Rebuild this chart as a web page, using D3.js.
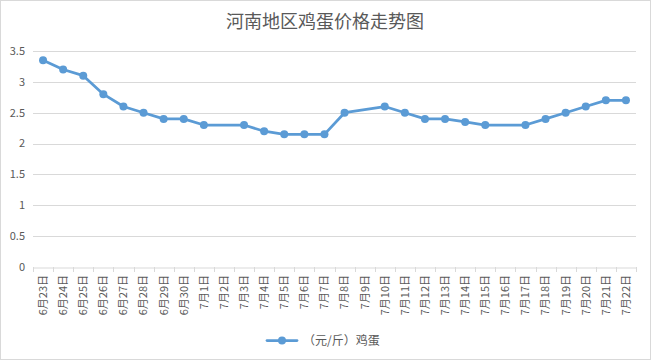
<!DOCTYPE html>
<html><head><meta charset="utf-8">
<script src="https://cdn.jsdelivr.net/npm/d3@7"></script>
<style>
html,body{margin:0;padding:0;background:#fff;}
svg{display:block;font-family:"Noto Sans CJK SC","Microsoft YaHei",sans-serif;}
</style></head>
<body>
<svg id="c" width="651" height="360"></svg>
<script>
(function(){
const title = "河南地区鸡蛋价格走势图";
const seriesName = "（元/斤）鸡蛋";
const categories = ["6月23日","6月24日","6月25日","6月26日","6月27日","6月28日","6月29日","6月30日",
  "7月1日","7月2日","7月3日","7月4日","7月5日","7月6日","7月7日","7月8日","7月9日","7月10日",
  "7月11日","7月12日","7月13日","7月14日","7月15日","7月16日","7月17日","7月18日","7月19日",
  "7月20日","7月21日","7月22日"];
const values = [3.35,3.2,3.1,2.8,2.6,2.5,2.4,2.4,
  2.3,null,2.3,2.2,2.15,2.15,2.15,2.5,null,2.6,
  2.5,2.4,2.4,2.35,2.3,null,2.3,2.4,2.5,
  2.6,2.7,2.7];
const yTicks = [0,0.5,1,1.5,2,2.5,3,3.5];

const svg = d3.select("#c");
const W = 651, H = 360;
const mLeft = 33, mRight = 636, mTop = 51, mBottom = 267;
const textColor = "#595959", gridColor = "#d9d9d9", lineColor = "#5B9BD5";

svg.append("rect").attr("x",0.5).attr("y",0.5).attr("width",W-1).attr("height",H-1)
  .attr("fill","#fff").attr("stroke","#d9d9d9");

const x = d3.scaleBand().domain(categories).range([mLeft,mRight]);
const y = d3.scaleLinear().domain([0,3.5]).range([mBottom,mTop]);

svg.append("g").selectAll("line").data(yTicks.filter(d=>d>0)).join("line")
  .attr("x1",mLeft).attr("x2",mRight)
  .attr("y1",d=>Math.round(y(d))+0.5).attr("y2",d=>Math.round(y(d))+0.5)
  .attr("stroke",gridColor).attr("stroke-width",1);

svg.append("g").selectAll("text").data(yTicks).join("text")
  .attr("x",25).attr("y",d=>y(d)).attr("dy","0.35em")
  .attr("text-anchor","end").attr("font-size",11).attr("fill",textColor)
  .text(d=>d);

const xAxis = d3.axisBottom(x).tickSize(0).tickFormat("");
const gx = svg.append("g").attr("transform",`translate(0,${Math.round(mBottom)+0.5})`).call(xAxis);
gx.select(".domain").attr("stroke",gridColor);
const bounds = categories.map(c=>x(c)).concat([mRight]);
svg.append("g").selectAll("line").data(bounds).join("line")
  .attr("x1",d=>Math.round(d)+0.5).attr("x2",d=>Math.round(d)+0.5)
  .attr("y1",mBottom).attr("y2",mBottom+5)
  .attr("stroke",gridColor);
svg.append("g").selectAll("text").data(categories).join("text")
  .attr("transform",c=>`translate(${x(c)+x.bandwidth()/2},${275}) rotate(-90)`)
  .attr("dy","0.35em").attr("text-anchor","end")
  .attr("font-size",11).attr("fill",textColor)
  .text(c=>c);

const pts = categories.map((c,i)=>({c,v:values[i]})).filter(d=>d.v!=null);
const line = d3.line().x(d=>x(d.c)+x.bandwidth()/2).y(d=>y(d.v));
svg.append("path").datum(pts).attr("d",line)
  .attr("fill","none").attr("stroke",lineColor).attr("stroke-width",2.75)
  .attr("stroke-linejoin","round").attr("stroke-linecap","round");
svg.append("g").selectAll("circle").data(pts).join("circle")
  .attr("cx",d=>x(d.c)+x.bandwidth()/2).attr("cy",d=>y(d.v)).attr("r",4)
  .attr("fill",lineColor);

svg.append("text").attr("x",325).attr("y",28).attr("text-anchor","middle")
  .attr("font-size",18).attr("fill",textColor).text(title);

const lg = svg.append("g");
lg.append("line").attr("x1",267).attr("x2",297).attr("y1",340.5).attr("y2",340.5)
  .attr("stroke",lineColor).attr("stroke-width",2.75).attr("stroke-linecap","round");
lg.append("circle").attr("cx",282).attr("cy",340.5).attr("r",4).attr("fill",lineColor);
lg.append("text").attr("x",303).attr("y",340.5).attr("dy","0.35em")
  .attr("font-size",12).attr("fill",textColor).text(seriesName);
})();
</script>
</body></html>
